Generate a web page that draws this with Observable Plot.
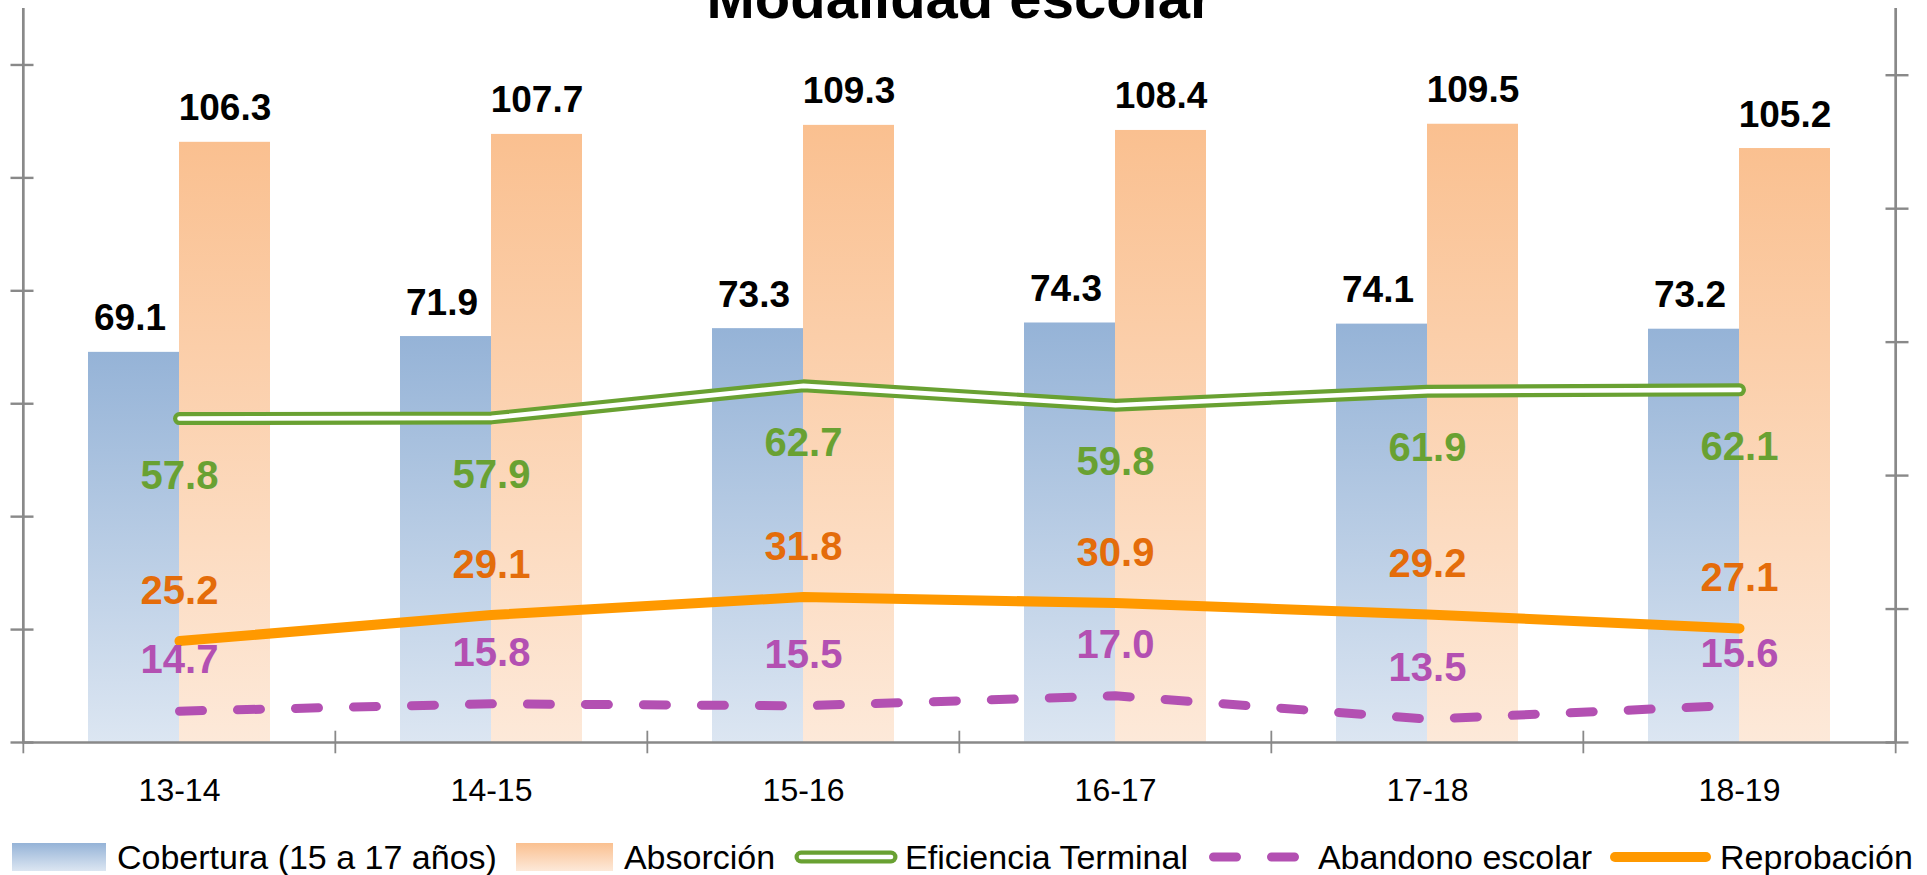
<!DOCTYPE html>
<html>
<head>
<meta charset="utf-8">
<script src="https://cdn.jsdelivr.net/npm/d3@7"></script>
<script src="https://cdn.jsdelivr.net/npm/@observablehq/plot@0.6"></script>
<style>
  html, body { margin: 0; padding: 0; background: #fff; overflow: hidden; }
  body { width: 1927px; height: 875px; font-family: "Liberation Sans", Arial, sans-serif; }
  #chart svg { display: block; }
  #legend { height: 34px; display: flex; align-items: center; font-size: 34px; line-height: 34px; color: #000; white-space: nowrap; }
  .item { display: flex; align-items: center; }
  .item svg { display: block; }
</style>
</head>
<body>
<div id="chart"></div>
<div id="legend"></div>
<script>
// ---- data ----
const title = "Modalidad escolar";
const categories = ["13-14", "14-15", "15-16", "16-17", "17-18", "18-19"];
const cobertura   = [69.1, 71.9, 73.3, 74.3, 74.1, 73.2];
const absorcion   = [106.3, 107.7, 109.3, 108.4, 109.5, 105.2];
const eficiencia  = [57.8, 57.9, 62.7, 59.8, 61.9, 62.1];
const abandono    = [14.7, 15.8, 15.5, 17.0, 13.5, 15.6];
const reprobacion = [25.2, 29.1, 31.8, 30.9, 29.2, 27.1];
const leftTicks  = [0, 20, 40, 60, 80, 100, 120];
const rightTicks = [10, 30, 50, 70, 90, 110];
const seriesNames = ["Cobertura (15 a 17 años)", "Absorción", "Eficiencia Terminal", "Abandono escolar", "Reprobación"];

// ---- layout / style ----
const W = 1927, H = 840;
const mL = 22, mR = 31, mT = 8, mB = 98;
const padInner = 0.4173, padOuter = padInner / 2;
const step = (W - mL - mR) / categories.length;
const half = step * (1 - padInner) / 2;
const leftMax = 130, rightMin = 10, rightMax = 120;
const toLeft = v => (v - rightMin) * leftMax / (rightMax - rightMin);
const fmt = d3.format(".1f");
const axisColor = "#898989";
const green = "#69A132", orangeLine = "#FF9900", orangeText = "#E46C0A", purple = "#B350B2";
const font = '"Liberation Sans", Arial, sans-serif';

const rows = categories.map((c, i) => ({
  cat: c, cob: cobertura[i], abs: absorcion[i], efi: eficiencia[i], aba: abandono[i], rep: reprobacion[i]
}));

const svg = Plot.plot({
  width: W, height: H,
  marginLeft: mL, marginRight: mR, marginTop: mT, marginBottom: mB,
  style: { fontFamily: font, background: "#fff", overflow: "hidden" },
  x: { type: "band", domain: categories, paddingInner: padInner, paddingOuter: padOuter },
  y: { domain: [0, leftMax] },
  marks: [
    // bars
    Plot.barY(rows, { x: "cat", y: "cob", insetRight: half, fill: "url(#gradBlue)" }),
    Plot.barY(rows, { x: "cat", y: "abs", insetLeft: half, fill: "url(#gradOrange)" }),
    // axes lines
    Plot.ruleY([0], { stroke: axisColor, strokeWidth: 2.7 }),
    Plot.ruleX([categories[0]], { x: d => d, dx: -step / 2, y1: 0, y2: leftMax, stroke: axisColor, strokeWidth: 2.7 }),
    Plot.ruleX([categories[categories.length - 1]], { x: d => d, dx: step / 2, y1: 0, y2: leftMax, stroke: axisColor, strokeWidth: 2.7 }),
    // category boundary cross ticks
    Plot.ruleX(categories, { x: d => d, dx: -step / 2, y1: -2, y2: 2, stroke: axisColor, strokeWidth: 1.8 }),
    Plot.ruleX([categories[categories.length - 1]], { x: d => d, dx: step / 2, y1: -2, y2: 2, stroke: axisColor, strokeWidth: 1.8 }),
    // left and right axis cross ticks (no labels)
    Plot.axisY(leftTicks, { anchor: "left", tickSize: 23, dx: 11.5, tickFormat: () => "", label: null, stroke: axisColor, strokeWidth: 2.4 }),
    Plot.axisY(rightTicks.map(toLeft), { anchor: "right", tickSize: 23, dx: -11.5, tickFormat: () => "", label: null, stroke: axisColor, strokeWidth: 2.4 }),
    // category labels
    Plot.axisX({ tickSize: 0, tickPadding: 36, fontSize: 32, label: null, fill: "#000" }),
    // lines
    Plot.lineY(rows, { x: "cat", y: d => toLeft(d.rep), stroke: orangeLine, strokeWidth: 10, strokeLinecap: "round", strokeLinejoin: "round" }),
    Plot.lineY(rows, { x: "cat", y: d => toLeft(d.aba), stroke: purple, strokeWidth: 9, strokeDasharray: "23,35", strokeLinecap: "round", strokeLinejoin: "round" }),
    Plot.lineY(rows, { x: "cat", y: d => toLeft(d.efi), dy: -5, stroke: green, strokeWidth: 13, strokeLinecap: "round", strokeLinejoin: "round" }),
    Plot.lineY(rows, { x: "cat", y: d => toLeft(d.efi), dy: -5, stroke: "#fff", strokeWidth: 4.6, strokeLinecap: "round", strokeLinejoin: "round" }),
    // bar labels
    Plot.text(rows, { x: "cat", y: "cob", text: d => fmt(d.cob), dx: -half / 2 - 4, dy: -22, lineAnchor: "bottom", fontSize: 37, fontWeight: "bold", fill: "#000" }),
    Plot.text(rows, { x: "cat", y: "abs", text: d => fmt(d.abs), dx: half / 2, dy: -22, lineAnchor: "bottom", fontSize: 37, fontWeight: "bold", fill: "#000" }),
    // line labels
    Plot.text(rows, { x: "cat", y: d => toLeft(d.efi), text: d => fmt(d.efi), dy: 65, lineAnchor: "bottom", fontSize: 40, fontWeight: "bold", fill: green }),
    Plot.text(rows, { x: "cat", y: d => toLeft(d.rep), text: d => fmt(d.rep), dy: -37, lineAnchor: "bottom", fontSize: 40, fontWeight: "bold", fill: orangeText }),
    Plot.text(rows, { x: "cat", y: d => toLeft(d.aba), text: d => fmt(d.aba), dy: -38, lineAnchor: "bottom", fontSize: 40, fontWeight: "bold", fill: purple }),
    // title (partly cut off at top, as in the reference)
    Plot.text([title], { text: d => d, frameAnchor: "top", dy: 9, lineAnchor: "bottom", fontSize: 58, fontWeight: "bold", fill: "#000" })
  ]
});

function addGrad(defs, id, c1, c2) {
  const g = defs.append("linearGradient").attr("id", id)
    .attr("x1", 0).attr("y1", 0).attr("x2", 0).attr("y2", 1);
  g.append("stop").attr("offset", "0%").attr("stop-color", c1);
  g.append("stop").attr("offset", "100%").attr("stop-color", c2);
}
const defs = d3.select(svg).insert("defs", ":first-child");
addGrad(defs, "gradBlue", "#95B3D7", "#DCE6F2");
addGrad(defs, "gradOrange", "#FAC090", "#FDE9D9");
document.getElementById("chart").appendChild(svg);

// ---- legend ----
const legend = d3.select("#legend");
const items = [
  { name: seriesNames[0], kind: "bar", grad: "lgBlue", w: 94, ml: 12, gap: 11 },
  { name: seriesNames[1], kind: "bar", grad: "lgOrange", w: 97, ml: 19, gap: 11 },
  { name: seriesNames[2], kind: "double", w: 104, ml: 19, gap: 7 },
  { name: seriesNames[3], kind: "dash", w: 90, ml: 21, gap: 19 },
  { name: seriesNames[4], kind: "line", w: 101, ml: 18, gap: 9 }
];
items.forEach(it => {
  const div = legend.append("div").attr("class", "item").style("margin-left", it.ml + "px");
  const s = div.append("svg").attr("width", it.w).attr("height", 28).style("margin-right", it.gap + "px");
  if (it.kind === "bar") {
    const d = s.append("defs");
    if (it.grad === "lgBlue") addGrad(d, it.grad, "#95B3D7", "#DCE6F2");
    else addGrad(d, it.grad, "#FAC090", "#FDE9D9");
    s.append("rect").attr("width", it.w).attr("height", 28).attr("fill", `url(#${it.grad})`);
  } else if (it.kind === "double") {
    s.append("line").attr("x1", 7).attr("x2", it.w - 7).attr("y1", 14).attr("y2", 14)
      .attr("stroke", green).attr("stroke-width", 13).attr("stroke-linecap", "round");
    s.append("line").attr("x1", 7).attr("x2", it.w - 7).attr("y1", 14).attr("y2", 14)
      .attr("stroke", "#fff").attr("stroke-width", 4.6).attr("stroke-linecap", "round");
  } else if (it.kind === "dash") {
    s.append("line").attr("x1", 4.5).attr("x2", it.w - 4.5).attr("y1", 14).attr("y2", 14)
      .attr("stroke", purple).attr("stroke-width", 9).attr("stroke-linecap", "round").attr("stroke-dasharray", "23,35");
  } else {
    s.append("line").attr("x1", 5).attr("x2", it.w - 5).attr("y1", 14).attr("y2", 14)
      .attr("stroke", orangeLine).attr("stroke-width", 10).attr("stroke-linecap", "round");
  }
  div.append("span").text(it.name);
});
</script>
</body>
</html>
